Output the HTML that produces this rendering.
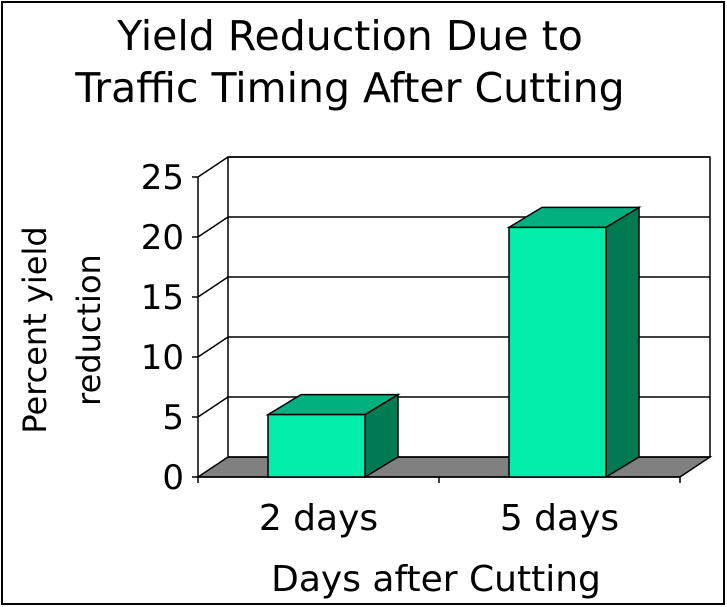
<!DOCTYPE html>
<html><head><meta charset="utf-8"><style>
html,body{margin:0;padding:0;background:#fff;}
svg{display:block;font-family:"DejaVu Sans","Liberation Sans",sans-serif;}
</style></head><body>
<svg id="chart" width="727" height="607" viewBox="0 0 727 607">
<rect x="2" y="2" width="722" height="602" fill="#fff" stroke="#000" stroke-width="2"/>
<text x="350" y="50" font-size="41" text-anchor="middle">Yield Reduction Due to</text>
<text x="350" y="102" font-size="41" text-anchor="middle">Traffic Timing After Cutting</text>
<g id="plot"></g>
<text x="436" y="591" font-size="36" text-anchor="middle">Days after Cutting</text>
<text transform="translate(46,330) rotate(-90)" font-size="32" text-anchor="middle"><tspan x="0" dy="0">Percent yield</tspan><tspan x="0" dy="54">reduction</tspan></text>
</svg>
<script>
const categories = ["2 days", "5 days"];
const values = [5.2, 20.8];
const yTicks = [0, 5, 10, 15, 20, 25];

const NS = "http://www.w3.org/2000/svg";
const plot = document.getElementById("plot");
const x0 = 198, x1 = 680, y0 = 477, pxPerUnit = 12, dx = 30, dy = -20;
function yScale(v){ return y0 - v * pxPerUnit; }
const slotW = (x1 - x0) / categories.length;
function xCenter(i){ return x0 + slotW * (i + 0.5); }
function mk(tag, attrs){ const e = document.createElementNS(NS, tag); for (const k in attrs) e.setAttribute(k, attrs[k]); plot.appendChild(e); return e; }

let fl = mk("polygon", {points:`${x0},${y0} ${x1},${y0} ${x1+dx},${y0+dy} ${x0+dx},${y0+dy}`, fill:"#808080", stroke:"#000", "stroke-width":1.5});


let bw = mk("rect", {x:x0+dx, y:yScale(25)+dy, width:x1-x0, height:25*pxPerUnit, fill:"none", stroke:"#000", "stroke-width":1.5});


yTicks.forEach(t => {
  const y = yScale(t);
  if (t > 0) {
    let g = mk("polyline", {points:`${x0},${y} ${x0+dx},${y+dy} ${x1+dx},${y+dy}`, fill:"none", stroke:"#000", "stroke-width":1.5});
    
    
  }
  let tk = mk("line", {x1:x0-6, y1:y, x2:x0, y2:y, stroke:"#000", "stroke-width":1.5});
  
  
  let lb = mk("text", {x:x0-14, y:y+12, "font-size":34, "text-anchor":"end"});
  lb.textContent = t;
  
  
});
let ax = mk("line", {x1:x0, y1:yScale(0), x2:x0, y2:yScale(25), stroke:"#000", "stroke-width":1.5});


let bx = mk("line", {x1:x0, y1:y0, x2:x1, y2:y0, stroke:"#000", "stroke-width":1.5});


[x0, (x0+x1)/2, x1].forEach(x => {
  let t = mk("line", {x1:x, y1:y0, x2:x, y2:y0+6, stroke:"#000", "stroke-width":1.5});
  
  
});

const bw2 = 97, bdx = 33, bdy = -20;
categories.forEach((c, i) => {
  const cx = xCenter(i) - 2;
  const l = cx - bw2/2, r = cx + bw2/2, top = yScale(values[i]), bot = y0;
  let side = mk("polygon", {points:`${r},${bot} ${r+bdx},${bot+bdy} ${r+bdx},${top+bdy} ${r},${top}`, fill:"#007a52", stroke:"#000", "stroke-width":1.5});
  
  
  let tp = mk("polygon", {points:`${l},${top} ${l+bdx},${top+bdy} ${r+bdx},${top+bdy} ${r},${top}`, fill:"#00b07e", stroke:"#000", "stroke-width":1.5});
  
  
  let fr = mk("rect", {x:l, y:top, width:bw2, height:bot-top, fill:"#00eeaa", stroke:"#000", "stroke-width":1.5});
  
  
  let lb = mk("text", {x:cx + 2, y:530, "font-size":36, "text-anchor":"middle"});
  lb.textContent = c;
  
  
});
</script>
</body></html>
